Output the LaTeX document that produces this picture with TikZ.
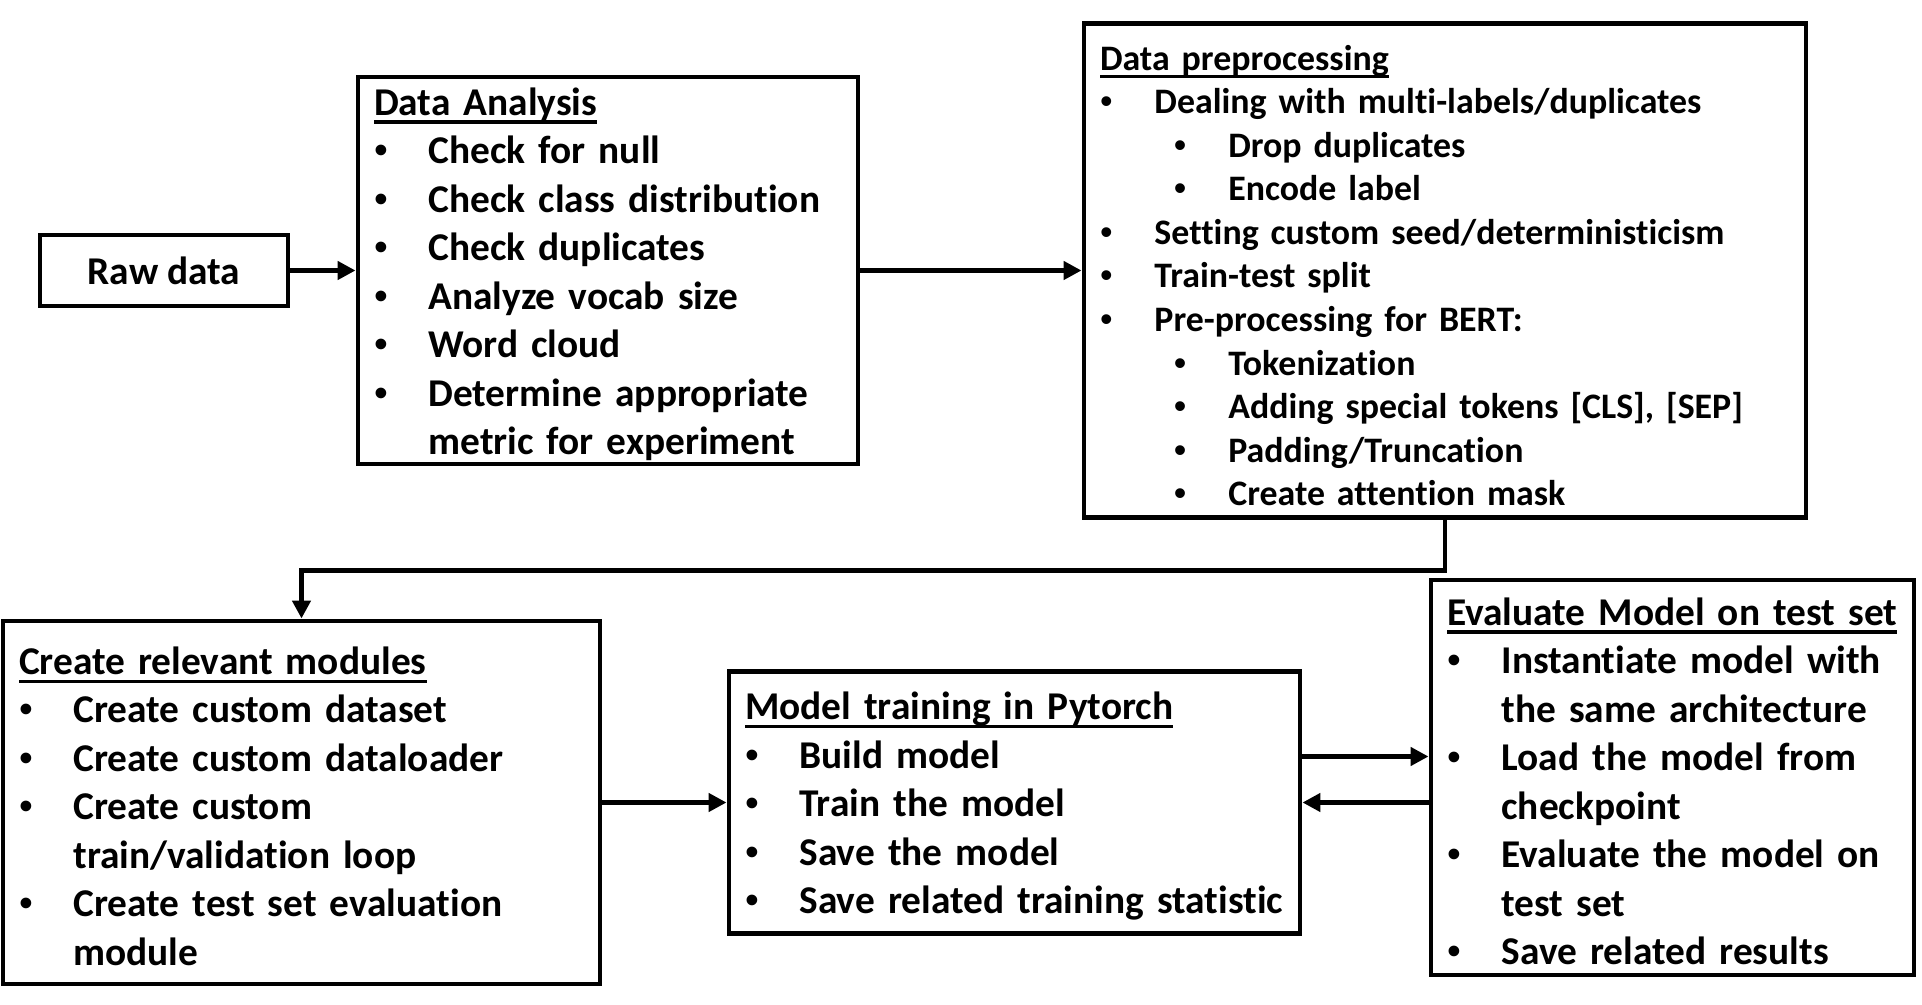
\documentclass[tikz,border=0pt]{standalone}
\usepackage{fontspec}
\setmainfont{Carlito}[Ligatures=NoCommon]
\newfontfamily\bulletfont{Liberation Sans}
\usepackage{tikz}
\usetikzlibrary{arrows.meta}
\setlength{\parindent}{0pt}
\hyphenpenalty=10000
\exhyphenpenalty=10000

% bullet item, sub item and underlined box title
\newcommand{\bulmark}{\makebox[15.5pt][l]{{\bulletfont\mdseries\textbullet}}}
\newcommand{\bul}[1]{\noindent\hangindent=15.5pt\hangafter=1\bulmark#1\par}
\newcommand{\subbul}[1]{\noindent\hangindent=36.5pt\hangafter=1\hspace*{21pt}\bulmark#1\par}
\newcommand{\boxtitle}[1]{\noindent\rule{0pt}{10pt}\setbox0=\hbox{#1}\rlap{\rule[-2.4pt]{\wd0}{0.9pt}}\box0\par}

\begin{document}
\begin{tikzpicture}
    % box style and arrow style
    [BoxNode/.style={rectangle, draw=black, line width=1.4pt, inner xsep=4.5pt, inner ysep=0pt, align=left, font=\bfseries\fontsize{11.2}{13.8}\selectfont},
    SmallBoxNode/.style={BoxNode, font=\bfseries\fontsize{10.2}{12.4}\selectfont},
    ArrowLine/.style={-{Triangle[length=1.8mm,width=1.8mm]}, line width=1.4pt}]

    % white background, fixes the size of the page
    \fill[white](0,0)rectangle(19.22,10.04);
    \useasboundingbox (0,0) rectangle (19.22,10.04);

    % first row
    \node[BoxNode, align=center, minimum width=2.48cm, minimum height=0.71cm] (raw) at (1.64,7.335) {Raw data};

    \node[BoxNode, minimum width=5.00cm, minimum height=3.87cm, text width=4.68cm] (ana) at (6.08,7.335) {%
        \boxtitle{Data Analysis}
        \bul{Check for null}
        \bul{Check class distribution}
        \bul{Check duplicates}
        \bul{Analyze vocab size}
        \bul{Word cloud}
        \bul{Determine appropriate\newline metric for experiment}};

    \node[SmallBoxNode, minimum width=7.22cm, minimum height=4.94cm, text width=6.90cm] (pre) at (14.45,7.335) {%
        \boxtitle{Data preprocessing}
        \bul{Dealing with multi-labels/duplicates}
        \subbul{Drop duplicates}
        \subbul{Encode label}
        \bul{Setting custom seed/deterministicism}
        \bul{Train-test split}
        \bul{Pre-processing for BERT:}
        \subbul{Tokenization}
        \subbul{Adding special tokens [CLS], [SEP]}
        \subbul{Padding/Truncation}
        \subbul{Create attention mask}};

    % second row
    \node[BoxNode, minimum width=5.97cm, minimum height=3.63cm, text width=5.65cm] (mods) at (3.015,2.015) {%
        \boxtitle{Create relevant modules}
        \bul{Create custom dataset}
        \bul{Create custom dataloader}
        \bul{Create custom\newline train/validation loop}
        \bul{Create test set evaluation\newline module}};

    \node[BoxNode, minimum width=5.71cm, minimum height=2.62cm, text width=5.39cm] (train) at (10.145,2.015) {%
        \boxtitle{Model training in Pytorch}
        \bul{Build model}
        \bul{Train the model}
        \bul{Save the model}
        \bul{Save related training statistic}};

    \node[BoxNode, minimum width=4.83cm, minimum height=3.95cm, text width=4.51cm] (eval) at (16.725,2.265) {%
        \boxtitle{Evaluate Model on test set}
        \bul{Instantiate model with\newline the same architecture}
        \bul{Load the model from\newline checkpoint}
        \bul{Evaluate the model on\newline test set}
        \bul{Save related results}};

    % straight arrows
    \foreach \a/\b in {raw/ana, ana/pre, mods/train}
        \draw[ArrowLine](\a)--(\b);

    % from preprocessing down to the modules
    \draw[ArrowLine](pre.south)--++(0,-0.51)-|(mods.north);

    % training <-> evaluation
    \coordinate (up) at ([yshift=4.6mm]train.east);
    \draw[ArrowLine](up)--(up -| eval.west);
    \draw[ArrowLine](eval.west |- train.east)--(train.east);
\end{tikzpicture}
\end{document}
